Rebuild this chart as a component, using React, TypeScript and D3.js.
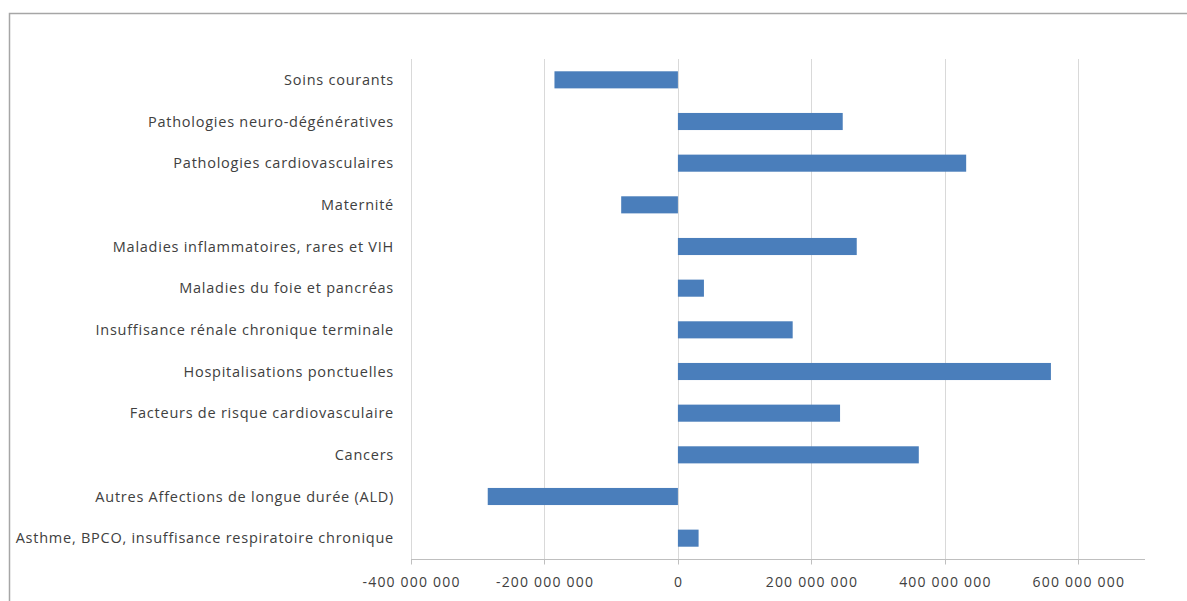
import React, { useEffect, useRef } from "react";
import * as d3 from "d3";

// Categories listed top to bottom
const categories = [
  "Soins courants",
  "Pathologies neuro-dégénératives",
  "Pathologies cardiovasculaires",
  "Maternité",
  "Maladies inflammatoires, rares et VIH",
  "Maladies du foie et pancréas",
  "Insuffisance rénale chronique terminale",
  "Hospitalisations ponctuelles",
  "Facteurs de risque cardiovasculaire",
  "Cancers",
  "Autres Affections de longue durée (ALD)",
  "Asthme, BPCO, insuffisance respiratoire chronique",
];

const values = [
  -185e6, 247e6, 432e6, -85e6, 268e6, 39e6, 172e6, 559e6, 243e6, 361e6, -285e6, 31e6,
];

const tickValues = [-400e6, -200e6, 0, 200e6, 400e6, 600e6];

const W = 1187;
const H = 601;
const margin = { left: 411, right: 1145, top: 59, bottom: 559 };

const fmt = (v: number) => d3.format(",")(v).replace(/,/g, " ").replace("−", "-");

export default function App() {
  const ref = useRef<SVGSVGElement>(null);

  useEffect(() => {
    const svg = d3.select(ref.current);
    svg.selectAll("*").remove();

    const x = d3.scaleLinear().domain([-400e6, 700e6]).range([margin.left, margin.right]);
    const y = d3
      .scaleBand()
      .domain(categories)
      .range([margin.top, margin.bottom])
      .paddingInner(0.59)
      .paddingOuter(0.295);

    // outer frame
    svg
      .append("rect")
      .attr("x", 9.5)
      .attr("y", 13.5)
      .attr("width", W + 20)
      .attr("height", H + 20)
      .attr("fill", "#fff")
      .attr("stroke", "#a6a6a6")
      .attr("stroke-width", 1.5);

    // vertical gridlines
    svg
      .append("g")
      .selectAll("line")
      .data(tickValues)
      .join("line")
      .attr("x1", (d) => Math.round(x(d)) + 0.5)
      .attr("x2", (d) => Math.round(x(d)) + 0.5)
      .attr("y1", margin.top)
      .attr("y2", margin.bottom)
      .attr("stroke", "#d9d9d9")
      .attr("stroke-width", 1);

    // bars
    svg
      .append("g")
      .selectAll("rect")
      .data(categories.map((c, i) => ({ c, v: values[i] })))
      .join("rect")
      .attr("x", (d) => Math.min(x(0), x(d.v)))
      .attr("width", (d) => Math.abs(x(d.v) - x(0)))
      .attr("y", (d) => y(d.c)!)
      .attr("height", y.bandwidth())
      .attr("fill", "#4a7ebb");

    // x axis baseline and ticks
    const axisY = margin.bottom + 0.5;
    svg
      .append("line")
      .attr("x1", margin.left)
      .attr("x2", margin.right)
      .attr("y1", axisY)
      .attr("y2", axisY)
      .attr("stroke", "#bfbfbf")
      .attr("stroke-width", 1);

    svg
      .append("g")
      .selectAll("line")
      .data(tickValues)
      .join("line")
      .attr("x1", (d) => Math.round(x(d)) + 0.5)
      .attr("x2", (d) => Math.round(x(d)) + 0.5)
      .attr("y1", axisY)
      .attr("y2", axisY + 5)
      .attr("stroke", "#bfbfbf");

    svg
      .append("g")
      .selectAll("text")
      .data(tickValues)
      .join("text")
      .attr("x", (d) => x(d) + 0.6)
      .attr("y", 587)
      .attr("text-anchor", "middle")
      .attr("font-family", "'Open Sans', sans-serif")
      .attr("font-size", 14)
      .attr("letter-spacing", 1.2)
      .attr("fill", "#404040")
      .text((d) => fmt(d));

    // category labels
    svg
      .append("g")
      .selectAll("text")
      .data(categories)
      .join("text")
      .attr("x", 394)
      .attr("y", (d) => y(d)! + y.bandwidth() / 2)
      .attr("dy", "0.35em")
      .attr("text-anchor", "end")
      .attr("font-family", "'Open Sans', sans-serif")
      .attr("font-size", 14.5)
      .attr("letter-spacing", 0.75)
      .attr("fill", "#404040")
      .text((d) => d);
  }, []);

  return (
    <svg
      ref={ref}
      width={W}
      height={H}
      style={{ position: "absolute", left: 0, top: 0, background: "#fff" }}
    />
  );
}
